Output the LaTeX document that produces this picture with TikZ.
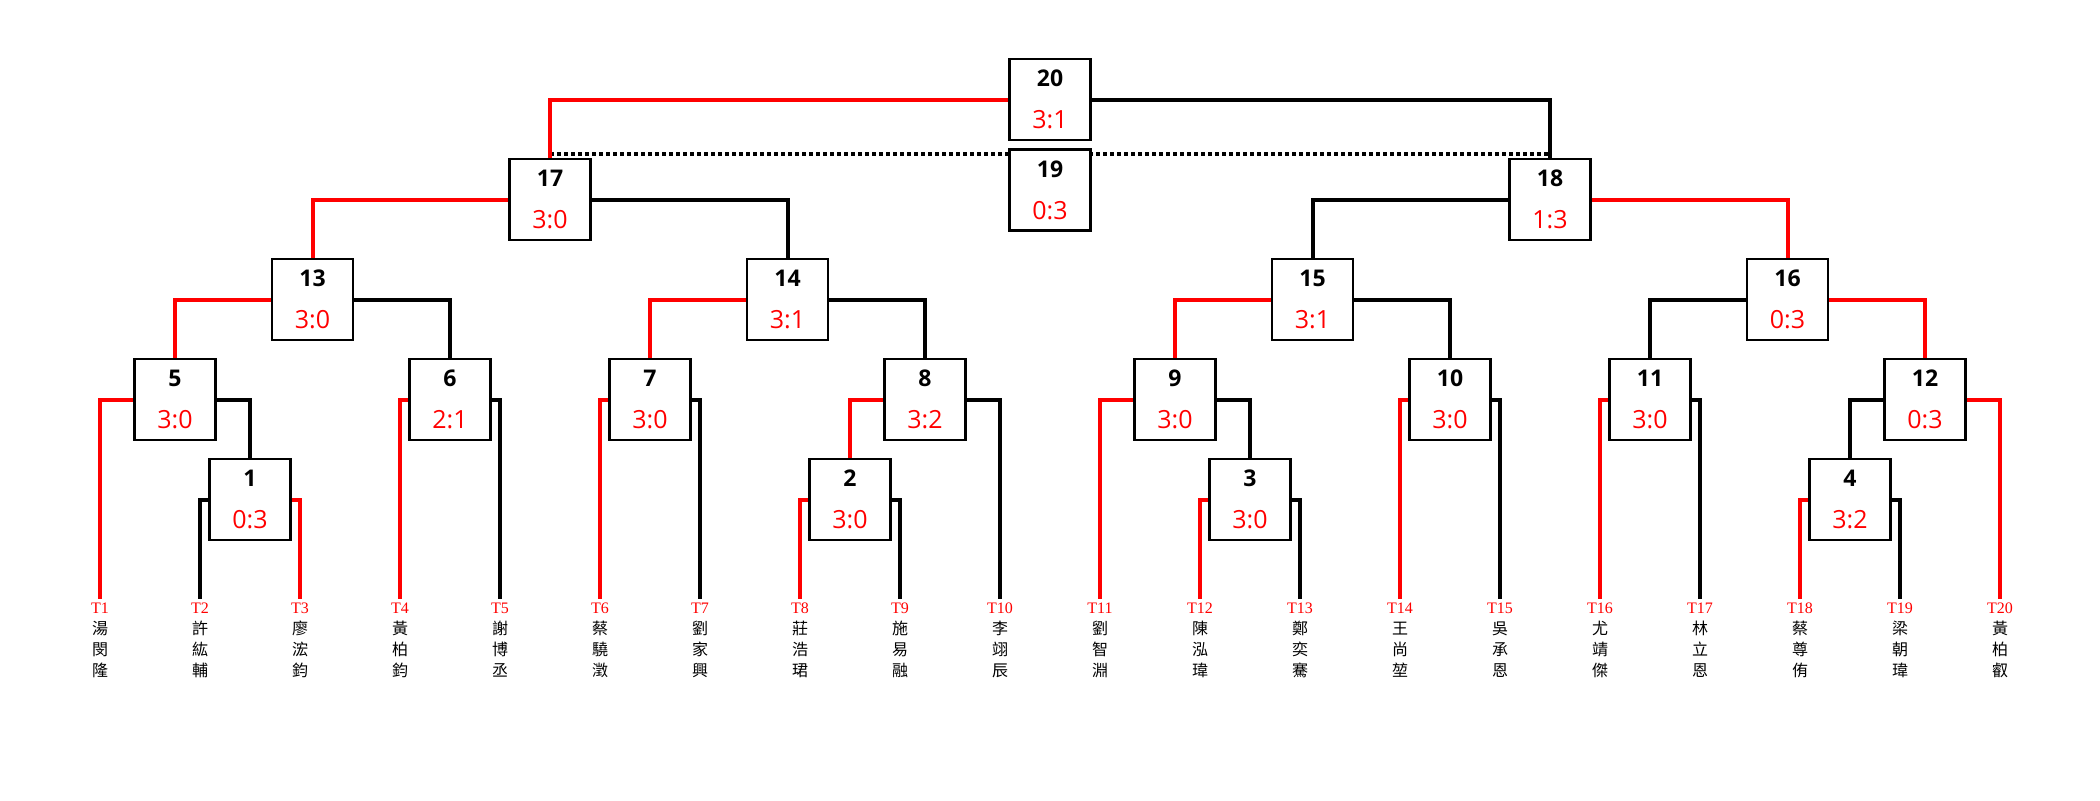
\documentclass[tikz,border=0pt]{standalone}
\usepackage{fontspec}
\newfontfamily\boxfont{Open Sans}
\newfontfamily\tfont{Liberation Serif}
\newfontfamily\cjk{Noto Sans CJK TC}
\definecolor{wred}{RGB}{255,0,0}
\newcommand\vname[3]{#1\\#2\\#3}
\newcommand\boxtext[2]{\textbf{#1}\\\textcolor{wred}{\fontsize{25}{42}\selectfont #2}}
\tikzset{
 box/.style={draw, line width=2.2pt, fill=white, minimum width=81pt, minimum height=81pt, inner sep=0pt, align=center, font=\boxfont\fontsize{23}{42}\selectfont},
 tlabel/.style={anchor=north, inner xsep=0pt, inner ysep=4pt, text=wred, font=\tfont\fontsize{16}{16}\selectfont},
 namelbl/.style={inner sep=0pt, align=center, font=\cjk\fontsize{16}{21}\selectfont},
 win/.style={draw=wred, line width=4pt},
 lose/.style={draw=black, line width=4pt},
 third/.style={draw=black, line width=4pt, dash pattern=on 4pt off 3pt},
}
\begin{document}
\begin{tikzpicture}[x=1pt,y=-1pt]
\useasboundingbox[fill=white] (0,0) rectangle (2100,800);
% leaves
\foreach \i/\nm in {1/湯閔隆,2/許紘輔,3/廖浤鈞,4/黃柏鈞,5/謝博丞,6/蔡驍澂,7/劉家興,8/莊浩珺,9/施易融,10/李翊辰,11/劉智淵,12/陳泓瑋,13/鄭奕騫,14/王尚堃,15/吳承恩,16/尤靖傑,17/林立恩,18/蔡尊侑,19/梁朝瑋,20/黃柏叡}{
  \pgfmathsetmacro\xx{100*\i}
  \node[tlabel] (t\i) at (\xx,599) {T\i};
  \node[namelbl] (n\i) at (\xx,649.5) {\expandafter\vname\nm};
}
% match boxes
\node[box] (m1) at (250,499.5) {\boxtext{1}{0:3}};
\node[box] (m2) at (850,499.5) {\boxtext{2}{3:0}};
\node[box] (m3) at (1250,499.5) {\boxtext{3}{3:0}};
\node[box] (m4) at (1850,499.5) {\boxtext{4}{3:2}};
\node[box] (m5) at (175,399.5) {\boxtext{5}{3:0}};
\node[box] (m6) at (450,399.5) {\boxtext{6}{2:1}};
\node[box] (m7) at (650,399.5) {\boxtext{7}{3:0}};
\node[box] (m8) at (925,399.5) {\boxtext{8}{3:2}};
\node[box] (m9) at (1175,399.5) {\boxtext{9}{3:0}};
\node[box] (m10) at (1450,399.5) {\boxtext{10}{3:0}};
\node[box] (m11) at (1650,399.5) {\boxtext{11}{3:0}};
\node[box] (m12) at (1925,399.5) {\boxtext{12}{0:3}};
\node[box] (m13) at (312.5,299.5) {\boxtext{13}{3:0}};
\node[box] (m14) at (787.5,299.5) {\boxtext{14}{3:1}};
\node[box] (m15) at (1312.5,299.5) {\boxtext{15}{3:1}};
\node[box] (m16) at (1787.5,299.5) {\boxtext{16}{0:3}};
\node[box] (m17) at (550,199.5) {\boxtext{17}{3:0}};
\node[box] (m18) at (1550,199.5) {\boxtext{18}{1:3}};
\node[box] (m20) at (1050,99.5) {\boxtext{20}{3:1}};
% third place dotted link (under box 19)
\draw[third] ([yshift=4pt]m17.north) -- ([yshift=4pt]m18.north);
\node[box] (m19) at (1050,190) {\boxtext{19}{0:3}};
% connectors
\draw[lose] (m1.west) -| (t2.north);
\draw[win]  (m1.east) -| (t3.north);
\draw[win]  (m2.west) -| (t8.north);
\draw[lose] (m2.east) -| (t9.north);
\draw[win]  (m3.west) -| (t12.north);
\draw[lose] (m3.east) -| (t13.north);
\draw[win]  (m4.west) -| (t18.north);
\draw[lose] (m4.east) -| (t19.north);
\draw[win]  (m5.west) -| (t1.north);
\draw[lose] (m5.east) -| (m1.north);
\draw[win]  (m6.west) -| (t4.north);
\draw[lose] (m6.east) -| (t5.north);
\draw[win]  (m7.west) -| (t6.north);
\draw[lose] (m7.east) -| (t7.north);
\draw[win]  (m8.west) -| (m2.north);
\draw[lose] (m8.east) -| (t10.north);
\draw[win]  (m9.west) -| (t11.north);
\draw[lose] (m9.east) -| (m3.north);
\draw[win]  (m10.west) -| (t14.north);
\draw[lose] (m10.east) -| (t15.north);
\draw[win]  (m11.west) -| (t16.north);
\draw[lose] (m11.east) -| (t17.north);
\draw[lose] (m12.west) -| (m4.north);
\draw[win]  (m12.east) -| (t20.north);
\draw[win]  (m13.west) -| (m5.north);
\draw[lose] (m13.east) -| (m6.north);
\draw[win]  (m14.west) -| (m7.north);
\draw[lose] (m14.east) -| (m8.north);
\draw[win]  (m15.west) -| (m9.north);
\draw[lose] (m15.east) -| (m10.north);
\draw[lose] (m16.west) -| (m11.north);
\draw[win]  (m16.east) -| (m12.north);
\draw[win]  (m17.west) -| (m13.north);
\draw[lose] (m17.east) -| (m14.north);
\draw[lose] (m18.west) -| (m15.north);
\draw[win]  (m18.east) -| (m16.north);
\draw[win]  (m20.west) -| (m17.north);
\draw[lose] (m20.east) -| (m18.north);
\end{tikzpicture}
\end{document}
